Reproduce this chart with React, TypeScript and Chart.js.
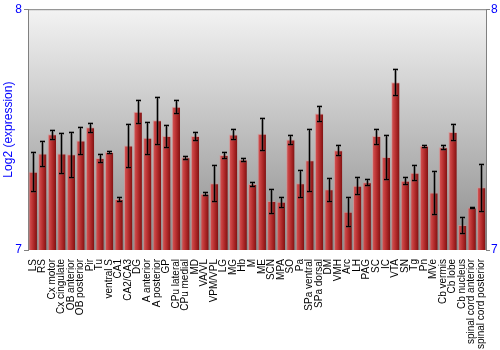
import React, { useEffect, useRef } from "react";
import { Chart, registerables } from "chart.js";

Chart.register(...registerables);

const categories = [
  "LS", "RS", "Cx motor", "Cx cingulate", "OB anterior", "OB posterior", "Pir", "Tu",
  "ventral S", "CA1", "CA2/CA3", "DG", "A anterior", "A posterior", "GP", "CPu lateral",
  "CPu medial", "MD", "VA/VL", "VPM/VPL", "LG", "MG", "Hb", "M", "ME", "SCN", "MPA", "SO",
  "Pa", "SPa ventral", "SPa dorsal", "DM", "VMH", "Arc", "LH", "PAG", "SC", "IC", "VTA",
  "SN", "Tg", "Pn", "MVe", "Cb vermis", "Cb lobe", "Cb nucleus", "spinal cord anterior",
  "spinal cord posterior",
];

const values = [
  7.325, 7.401, 7.481, 7.401, 7.398, 7.455, 7.51, 7.382, 7.407, 7.212, 7.434, 7.574,
  7.466, 7.539, 7.473, 7.595, 7.385, 7.473, 7.234, 7.277, 7.395, 7.48, 7.376, 7.274,
  7.483, 7.203, 7.2, 7.459, 7.277, 7.373, 7.567, 7.252, 7.414, 7.159, 7.267, 7.281,
  7.473, 7.386, 7.697, 7.288, 7.321, 7.433, 7.239, 7.427, 7.49, 7.104, 7.177, 7.261,
];

const errors = [
  0.08, 0.053, 0.019, 0.083, 0.093, 0.057, 0.019, 0.018, 0.005, 0.009, 0.088, 0.048,
  0.066, 0.097, 0.045, 0.028, 0.006, 0.018, 0.007, 0.075, 0.011, 0.021, 0.005, 0.008,
  0.066, 0.051, 0.02, 0.02, 0.057, 0.13, 0.03, 0.047, 0.021, 0.06, 0.036, 0.012,
  0.031, 0.092, 0.053, 0.014, 0.032, 0.004, 0.091, 0.008, 0.035, 0.033, 0.002, 0.098,
];

const yTicks = [7, 8];

const FONT = "'Liberation Sans', Arial, sans-serif";

const backgroundPlugin = {
  id: "bgGradient",
  beforeDraw(chart: any) {
    const { ctx, chartArea } = chart;
    if (!chartArea) return;
    const g = ctx.createLinearGradient(0, chartArea.top, 0, chartArea.bottom);
    g.addColorStop(0, "#f3f3f3");
    g.addColorStop(1, "#8c8c8c");
    ctx.save();
    ctx.fillStyle = g;
    ctx.fillRect(chartArea.left, chartArea.top, chartArea.right - chartArea.left, chartArea.bottom - chartArea.top);
    ctx.restore();
  },
  afterDraw(chart: any) {
    const { ctx, chartArea } = chart;
    ctx.save();
    ctx.strokeStyle = "#808080";
    ctx.lineWidth = 1;
    ctx.beginPath();
    ctx.moveTo(chartArea.left, chartArea.top + 0.5);
    ctx.lineTo(chartArea.right, chartArea.top + 0.5);
    ctx.stroke();
    ctx.restore();
  },
};

const errorBarPlugin = {
  id: "errorBars",
  afterDatasetsDraw(chart: any) {
    const { ctx } = chart;
    const meta = chart.getDatasetMeta(0);
    const y = chart.scales.y;
    ctx.save();
    meta.data.forEach((bar: any, i: number) => {
      const x = Math.round(bar.x) + 0.5;
      const hi = Math.round(y.getPixelForValue(values[i] + errors[i])) + 0.5;
      const lo = Math.round(y.getPixelForValue(values[i] - errors[i])) + 0.5;
      const cap = 2.5;
      ctx.strokeStyle = "rgba(60,60,60,0.45)";
      ctx.lineWidth = 3;
      ctx.beginPath();
      ctx.moveTo(x, hi);
      ctx.lineTo(x, lo);
      ctx.moveTo(x - cap, hi);
      ctx.lineTo(x + cap, hi);
      ctx.moveTo(x - cap, lo);
      ctx.lineTo(x + cap, lo);
      ctx.stroke();
      ctx.strokeStyle = "#000000";
      ctx.lineWidth = 1;
      ctx.beginPath();
      ctx.moveTo(x, hi);
      ctx.lineTo(x, lo);
      ctx.moveTo(x - cap, hi);
      ctx.lineTo(x + cap, hi);
      ctx.moveTo(x - cap, lo);
      ctx.lineTo(x + cap, lo);
      ctx.stroke();
    });
    ctx.restore();
  },
};

export default function App() {
  const canvasRef = useRef<HTMLCanvasElement | null>(null);

  useEffect(() => {
    document.body.style.margin = "0";
    const canvas = canvasRef.current;
    if (!canvas) return;
    const chart = new Chart(canvas, {
      type: "bar",
      data: {
        labels: categories,
        datasets: [
          {
            data: values,
            backgroundColor: (c: any) => {
              const ch = c.chart;
              const xs = ch.scales && ch.scales.x;
              if (!xs || !ch.chartArea) return "#b02a2a";
              const cx = xs.getPixelForValue(c.dataIndex);
              const g = ch.ctx.createLinearGradient(cx - 4.2, 0, cx + 4.2, 0);
              g.addColorStop(0, "#d85c5c");
              g.addColorStop(0.35, "#c43c3c");
              g.addColorStop(0.7, "#a42222");
              g.addColorStop(1, "#7e1212");
              return g;
            },
            borderColor: "rgba(225,140,140,0.55)",
            borderWidth: { top: 1, left: 1, right: 0, bottom: 0 },
            borderSkipped: "bottom",
            barPercentage: 0.88,
            categoryPercentage: 1,
          },
        ],
      },
      options: {
        responsive: false,
        animation: false,
        layout: { padding: { top: 9, left: 0, right: 0, bottom: 0 } },
        plugins: {
          legend: { display: false },
          tooltip: { enabled: false },
        },
        scales: {
          x: {
            type: "category",
            offset: true,
            grid: { display: false },
            border: { display: false },
            ticks: {
              autoSkip: false,
              minRotation: 90,
              maxRotation: 90,
              padding: 1,
              color: "#000000",
              font: { family: FONT, size: 10 },
            },
            afterFit: (s: any) => {
              s.height = 100;
            },
          },
          y: {
            position: "left",
            min: 7,
            max: 8,
            afterBuildTicks: (s: any) => {
              s.ticks = yTicks.map((v) => ({ value: v }));
            },
            ticks: {
              color: "#0000ff",
              padding: 2,
              font: { family: FONT, size: 12 },
            },
            grid: { drawOnChartArea: false, tickLength: 4, color: "#808080" },
            border: { color: "#808080" },
            title: {
              display: true,
              text: "Log2 (expression)",
              color: "#0000ff",
              font: { family: FONT, size: 12 },
              padding: { top: 1, bottom: 0 },
            },
            afterFit: (s: any) => {
              s.width = 28;
            },
          },
          y2: {
            position: "right",
            min: 7,
            max: 8,
            afterBuildTicks: (s: any) => {
              s.ticks = yTicks.map((v) => ({ value: v }));
            },
            ticks: {
              color: "#0000ff",
              padding: 1,
              font: { family: FONT, size: 12 },
            },
            grid: { drawOnChartArea: false, tickLength: 4, color: "#808080" },
            border: { color: "#808080" },
            afterFit: (s: any) => {
              s.width = 14;
            },
          },
        },
      },
      plugins: [backgroundPlugin, errorBarPlugin],
    });
    return () => chart.destroy();
  }, []);

  return (
    <div style={{ width: 500, height: 350 }}>
      <canvas ref={canvasRef} width={500} height={350} style={{ display: "block" }} />
    </div>
  );
}
